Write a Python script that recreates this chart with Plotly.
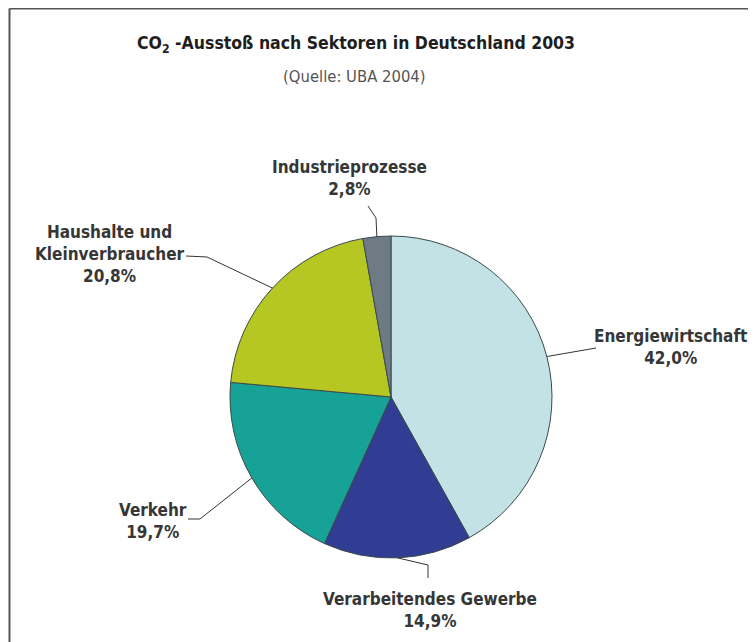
import math
import plotly.graph_objects as go

# ---- data ----
sectors = ["Energiewirtschaft", "Verarbeitendes Gewerbe", "Verkehr",
           "Haushalte und Kleinverbraucher", "Industrieprozesse"]
label_lines = ["Energiewirtschaft", "Verarbeitendes Gewerbe", "Verkehr",
               "Haushalte und<br>Kleinverbraucher", "Industrieprozesse"]
shares = [42.0, 14.9, 19.7, 20.8, 2.8]
share_text = ["42,0%", "14,9%", "19,7%", "20,8%", "2,8%"]
colors = ["#c3e2e5", "#313c93", "#17a298", "#b6c724", "#6f7b84"]

title = "CO<sub>2</sub> -Ausstoß nach Sektoren in Deutschland 2003"
subtitle = "(Quelle: UBA 2004)"

# ---- layout geometry (pixels in the 756x642 window) ----
OFF = 8                      # page body margin
W, H = 756 - OFF, 642 - OFF  # figure size
cx, cy, R = 391, 397, 161
FONT = "DejaVu Sans Condensed, Liberation Sans Narrow, sans-serif"

def px(x):
    return (x - OFF) / W

def py(y):
    return 1 - (y - OFF) / H

fig = go.Figure(go.Pie(
    labels=sectors, values=shares, sort=False, direction="clockwise", rotation=0,
    marker=dict(colors=colors, line=dict(color="#3a4a4a", width=1)),
    textinfo="none", hoverinfo="label+percent", showlegend=False,
    domain=dict(x=[px(cx - R), px(cx + R)], y=[py(cy + R), py(cy - R)]),
))

# label positions (text centre, pixels) and leader elbows
label_pos = [(670, 347), (430, 610), (153, 521), (110, 254), (349, 178)]
elbows = [[(596, 348)], [(428, 578), (428, 565)], [(188, 519), (200, 519)],
          [(186, 256), (207, 257)], [(368, 206), (376, 218)]]

total = sum(shares)
cum = 0.0
shapes = []
annotations = []
for i, v in enumerate(shares):
    mid = (cum + v / 2) / total * 2 * math.pi
    cum += v
    ex = cx + R * math.sin(mid)
    ey = cy - R * math.cos(mid)
    pts = elbows[i] + [(ex, ey)]
    path = "M " + " L ".join(f"{px(x):.5f},{py(y):.5f}" for x, y in pts)
    shapes.append(dict(type="path", path=path, xref="paper", yref="paper",
                       line=dict(color="#333333", width=1)))
    lx, ly = label_pos[i]
    annotations.append(dict(
        x=px(lx), y=py(ly), xref="paper", yref="paper", showarrow=False,
        text="<b>" + label_lines[i] + "<br>" + share_text[i] + "</b>",
        align="center", xanchor="center", yanchor="middle",
        font=dict(family=FONT, size=17, color="#363636")))

annotations.append(dict(x=px(356), y=py(31), xref="paper", yref="paper",
                        showarrow=False, text="<b>" + title + "</b>",
                        font=dict(family=FONT, size=17.5, color="#1e1e1e")))
annotations.append(dict(x=px(354), y=py(65), xref="paper", yref="paper",
                        showarrow=False, text=subtitle,
                        font=dict(family=FONT, size=16.5, color="#555555")))

# frame
shapes.append(dict(type="line", xref="paper", yref="paper",
                   x0=px(9.5), y0=py(8.5), x1=px(9.5), y1=0,
                   line=dict(color="#555555", width=2)))
shapes.append(dict(type="line", xref="paper", yref="paper",
                   x0=px(9.5), y0=py(8.5), x1=1, y1=py(8.5),
                   line=dict(color="#555555", width=2)))

fig.update_layout(width=W, height=H, margin=dict(l=0, r=0, t=0, b=0),
                  paper_bgcolor="white", plot_bgcolor="white",
                  shapes=shapes, annotations=annotations)

fig.write_html("out.html")
